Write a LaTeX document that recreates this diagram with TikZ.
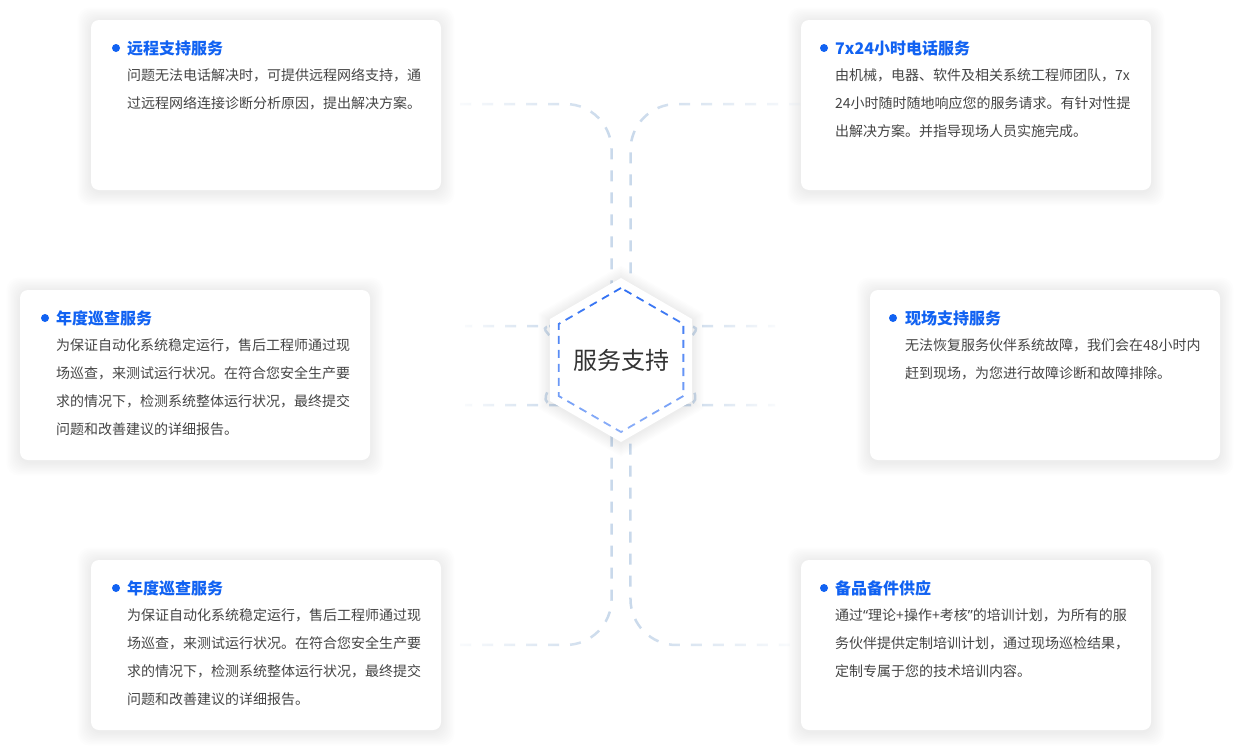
\documentclass[tikz,border=0pt]{standalone}
\usepackage{fontspec}
\setmainfont{Noto Sans CJK SC}
\newfontfamily\latinfont{Noto Sans}
\usepackage{tikz}
\usetikzlibrary{calc,fadings,backgrounds}
\definecolor{brandblue}{HTML}{1162F2}
\definecolor{hexblue}{HTML}{2F6FF3}
\definecolor{linkgray}{HTML}{C9D9EB}
\definecolor{bodygray}{HTML}{454545}
\definecolor{hubgray}{HTML}{333333}
\tikzfading[name=fadeW, left color=transparent!90, middle color=transparent!0, right color=transparent!0]
\tikzfading[name=fadeE, left color=transparent!0, middle color=transparent!0, right color=transparent!90]
\tikzfading[name=fadeS, top color=transparent!0, bottom color=transparent!45]
\newcommand{\openq}{{\latinfont “}}
\newcommand{\closeq}{{\latinfont ”}}
\tikzset{
  card/.style={fill=white, rounded corners=8pt, minimum width=350pt,
    minimum height=170pt, inner sep=0pt, outer sep=0pt, anchor=north west},
  cardtitle/.style={anchor=west, inner sep=0pt, text=brandblue,
    font=\fontsize{16}{20}\selectfont\bfseries},
  cardbody/.style={anchor=north west, inner sep=0pt, align=left, text=bodygray,
    font=\fontsize{14}{28}\selectfont},
  dot/.style={circle, fill=brandblue, minimum size=8pt, inner sep=0pt},
  link/.style={draw=linkgray, line width=2.5pt, dash pattern=on 11pt off 11pt,
    rounded corners=46pt},
  haze/.style={black, opacity=0.007},
}

\begin{document}
\begin{tikzpicture}[x=1pt,y=1pt]
\useasboundingbox (0,0) rectangle (1240,-750);

\coordinate (hub) at (621,-360);
\coordinate (tl) at (460,-104);
\coordinate (tr) at (800,-104);
\coordinate (ml1) at (465,-326);
\coordinate (ml2) at (465,-405);
\coordinate (mr1) at (775,-326);
\coordinate (mr2) at (775,-405);
\coordinate (bl) at (460,-645);
\coordinate (br) at (790,-645);

\draw[link, path fading=fadeW] (tl) -| ($(hub)+(-9.5,70)$);
\draw[link, path fading=fadeE] (tr) -| ($(hub)+(9.5,70)$);
\draw[link, path fading=fadeW] (bl) -| ($(hub)+(-9.5,-70)$);
\draw[link, path fading=fadeE] (br) -| ($(hub)+(9.5,-70)$);
\draw[link, path fading=fadeW, dash phase=4pt] (ml1) -- ++(48,0) to[out=0,in=120] ($(hub)+(-62,12)$);
\draw[link, path fading=fadeW, dash phase=4pt] (ml2) -- ++(48,0) to[out=0,in=-120] ($(hub)+(-62,-12)$);
\draw[link, path fading=fadeE, dash phase=4pt] (mr1) -- ++(-48,0) to[out=180,in=60] ($(hub)+(62,12)$);
\draw[link, path fading=fadeE, dash phase=4pt] (mr2) -- ++(-48,0) to[out=180,in=-60] ($(hub)+(62,-12)$);

% hexagon with its soft shadow
\foreach \s in {1,...,9}
  \fill[haze, shift={($(hub)+(0,-1)$)}] (90:82+1.5*\s) -- (150:82+1.5*\s) -- (210:82+1.5*\s) -- (270:82+1.5*\s) -- (330:82+1.5*\s) -- (30:82+1.5*\s) -- cycle;
\fill[white, shift={(hub)}] (90:82) -- (150:82) -- (210:82) -- (270:82) -- (330:82) -- (30:82) -- cycle;
\draw[hexblue, line width=1.8pt, dash pattern=on 8pt off 6pt, path fading=fadeS, shift={(hub)}]
  (90:72) -- (150:72) -- (210:72) -- (270:72) -- (330:72) -- (30:72) -- cycle;
\node[text=hubgray, font=\fontsize{24}{28}\selectfont] (hubtext) at (hub) {服务支持};

\node[card] (remote) at (91,-20) {};
\node[cardtitle] (remoteT) at ($(remote.north west)+(36,-28)$) {远程支持服务};
\node[dot] (remoteD) at ($(remote.north west)+(25,-28)$) {};
\node[cardbody] (remoteB) at ($(remote.north west)+(36,-48)$) {问题无法电话解决时，可提供远程网络支持，通\\过远程网络连接诊断分析原因，提出解决方案。};

\node[card] (hotline) at (801,-20) {};
\node[cardtitle] (hotlineT) at ($(hotline.north west)+(34,-28)$) {7x24小时电话服务};
\node[dot] (hotlineD) at ($(hotline.north west)+(23,-28)$) {};
\node[cardbody] (hotlineB) at ($(hotline.north west)+(34,-48)$) {由机械，电器、软件及相关系统工程师团队，7x\\24小时随时随地响应您的服务请求。有针对性提\\出解决方案。并指导现场人员实施完成。};

\node[card] (patrolA) at (20,-290) {};
\node[cardtitle] (patrolAT) at ($(patrolA.north west)+(36,-28)$) {年度巡查服务};
\node[dot] (patrolAD) at ($(patrolA.north west)+(25,-28)$) {};
\node[cardbody] (patrolAB) at ($(patrolA.north west)+(36,-48)$) {为保证自动化系统稳定运行，售后工程师通过现\\场巡查，来测试运行状况。在符合您安全生产要\\求的情况下，检测系统整体运行状况，最终提交\\问题和改善建议的详细报告。};

\node[card] (onsite) at (870,-290) {};
\node[cardtitle] (onsiteT) at ($(onsite.north west)+(35,-28)$) {现场支持服务};
\node[dot] (onsiteD) at ($(onsite.north west)+(23,-28)$) {};
\node[cardbody] (onsiteB) at ($(onsite.north west)+(35,-48)$) {无法恢复服务伙伴系统故障，我们会在48小时内\\赶到现场，为您进行故障诊断和故障排除。};

\node[card] (patrolB) at (91,-560) {};
\node[cardtitle] (patrolBT) at ($(patrolB.north west)+(36,-28)$) {年度巡查服务};
\node[dot] (patrolBD) at ($(patrolB.north west)+(25,-28)$) {};
\node[cardbody] (patrolBB) at ($(patrolB.north west)+(36,-48)$) {为保证自动化系统稳定运行，售后工程师通过现\\场巡查，来测试运行状况。在符合您安全生产要\\求的情况下，检测系统整体运行状况，最终提交\\问题和改善建议的详细报告。};

\node[card] (spares) at (801,-560) {};
\node[cardtitle] (sparesT) at ($(spares.north west)+(34,-28)$) {备品备件供应};
\node[dot] (sparesD) at ($(spares.north west)+(23,-28)$) {};
\node[cardbody] (sparesB) at ($(spares.north west)+(34,-48)$) {通过\openq 理论+操作+考核\closeq 的培训计划，为所有的服\\务伙伴提供定制培训计划，通过现场巡检结果，\\定制专属于您的技术培训内容。};

% page and card shadows
\begin{scope}[on background layer]
\fill[white] (0,0) rectangle (1240,-750);
\foreach \c in {remote,hotline,patrolA,onsite,patrolB,spares}
  \foreach \s in {1,...,9}
    \fill[haze, rounded corners=12pt] ($(\c.north west)+(-1.5*\s,1.5*\s-1)$) rectangle ($(\c.south east)+(1.5*\s,-1.5*\s-2)$);
\end{scope}
\end{tikzpicture}
\end{document}
